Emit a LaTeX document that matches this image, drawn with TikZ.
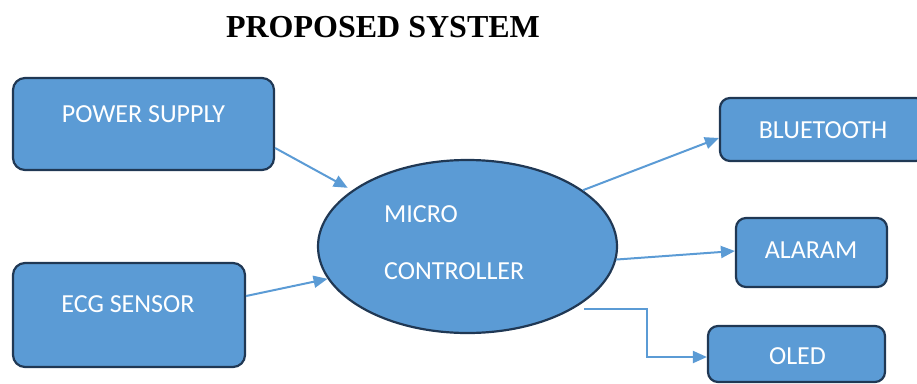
\documentclass[tikz,border=0pt]{standalone}
\usepackage{fontspec}
\setmainfont{Carlito}
\newfontfamily\titlefont{Liberation Serif}
\usetikzlibrary{arrows.meta,calc,shapes.geometric}

\definecolor{blockfill}{HTML}{5B9BD5}
\definecolor{blockedge}{RGB}{32,56,84}
\definecolor{linkblue}{HTML}{5B9BD5}

\tikzset{
  block/.style={draw=blockedge, fill=blockfill, line width=2.2pt,
    rounded corners=12pt, inner sep=0pt},
  core/.style={draw=blockedge, fill=blockfill, line width=2.2pt,
    ellipse, inner sep=0pt},
  lbl/.style={text=white, inner sep=0pt,
    font=\fontsize{26}{30}\selectfont},
  link/.style={draw=linkblue, line width=2pt,
    -{Triangle[length=14pt,width=12pt]}},
}

\begin{document}
\begin{tikzpicture}[x=1pt,y=-1pt]
  \useasboundingbox (0,0) rectangle (917,383);
  \clip (0,0) rectangle (917,383);

  % heading
  \node[anchor=base, inner sep=0pt, font=\titlefont\bfseries\fontsize{32}{36}\selectfont]
    (title) at (383,37) {PROPOSED SYSTEM};

  % input blocks
  \node[block, minimum width=261pt, minimum height=92pt] (ps) at (143.5,124) {};
  \node[lbl, anchor=base] (pstext) at (143.5,122) {POWER SUPPLY};

  \node[block, minimum width=232pt, minimum height=104pt] (ecg) at (129,315) {};
  \node[lbl, anchor=base] (ecgtext) at (128,312) {ECG SENSOR};

  % controller
  \node[core, minimum width=299pt, minimum height=173pt] (mc) at (467.5,246.5) {};
  \node[lbl, anchor=base west] (mctop) at (384,222) {MICRO};
  \node[lbl, anchor=base west] (mcbot) at (384,279) {CONTROLLER};

  % output blocks
  \node[block, rounded corners=10pt, minimum width=206pt, minimum height=63pt] (bt) at (823,129.5) {};
  \node[lbl, anchor=base] (bttext) at (823,138) {BLUETOOTH};

  \node[block, rounded corners=10pt, minimum width=151pt, minimum height=69pt] (al) at (811.5,252.5) {};
  \node[lbl, anchor=base] (altext) at (811,258) {ALARAM};

  \node[block, rounded corners=10pt, minimum width=177pt, minimum height=56pt] (ol) at (796.5,354) {};
  \node[lbl, anchor=base] (oltext) at (797.5,364) {OLED};

  % connectors
  \draw[link, shorten >=5pt] ($(ps.east)+(0,24)$) -- (mc.154);
  \draw[link] ($(ecg.east)+(0,-19)$) -- (mc.193);
  \draw[link] (mc.26) -- ($(bt.west)+(0,8.5)$);
  \draw[link] (mc.-5) -- ($(al.west)+(0,-1.5)$);
  \draw[link] ($(mc.south east)+(10,1)$) -- ++(63,0) |- ($(ol.west)+(0,3)$);
\end{tikzpicture}
\end{document}
